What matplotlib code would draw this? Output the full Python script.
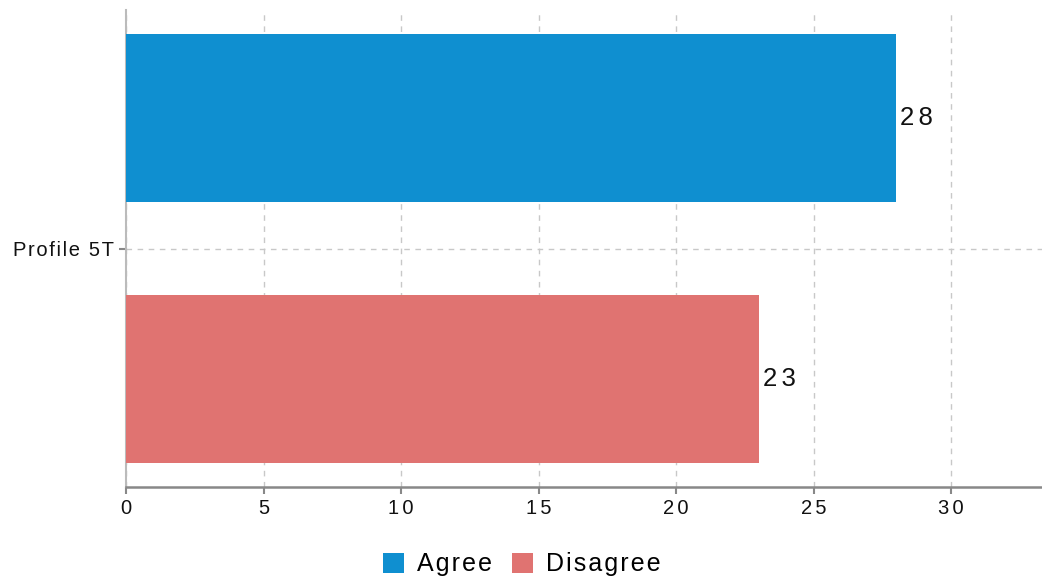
import matplotlib.pyplot as plt
import numpy as np

plt.rcParams['font.family'] = ['Liberation Sans', 'DejaVu Sans']

categories = ['Profile 5T']
series = ['Agree', 'Disagree']
values = [[28], [23]]
colors = ['#0f8fd0', '#e07371']
xticks = [0, 5, 10, 15, 20, 25, 30]

HS = '\u200a'  # hair space, used as letter spacing


def spaced(s, n=1):
    return (HS * n).join(s)


fig = plt.figure(figsize=(10.42, 5.82), dpi=100)
ax = fig.add_axes([0.1209, 0.1632, 0.8791, 0.8196])

y = np.arange(len(categories))
h = 0.352
offsets = [0.274, -0.274]
for name, vals, col, off in zip(series, values, colors, offsets):
    bars = ax.barh(y + off, vals, height=h, color=col, label=spaced(name), zorder=3)
    for b, v in zip(bars, vals):
        ax.text(b.get_width() + 0.15, b.get_y() + b.get_height() / 2, spaced(str(v), 2),
                ha='left', va='center', fontsize=18.5, color='#111111', zorder=4)

ax.set_xlim(0, 33.3)
ax.set_ylim(-0.5, 0.5)
ax.set_xticks(xticks)
ax.set_xticklabels([spaced(str(t), 2) for t in xticks])
ax.set_yticks(y)
ax.set_yticklabels([spaced(c) for c in categories])

ax.grid(True, axis='both', linestyle=(0, (4, 4)), color='#c8c8c8', linewidth=1, zorder=0)
for s in ['top', 'right']:
    ax.spines[s].set_visible(False)
ax.spines['bottom'].set_color('#888888')
ax.spines['bottom'].set_linewidth(1.8)
ax.spines['left'].set_color('#bbbbbb')
ax.spines['left'].set_linewidth(1.5)
ax.tick_params(axis='both', colors='#888888', labelcolor='#111111', labelsize=14.5,
               length=5, width=1.5)

ax.legend(loc='upper center', bbox_to_anchor=(0.432, -0.09), ncol=2, frameon=False,
          fontsize=18, handlelength=0.85, handleheight=0.85, handletextpad=0.5,
          columnspacing=0.8)

plt.savefig('out.png', dpi=100)
